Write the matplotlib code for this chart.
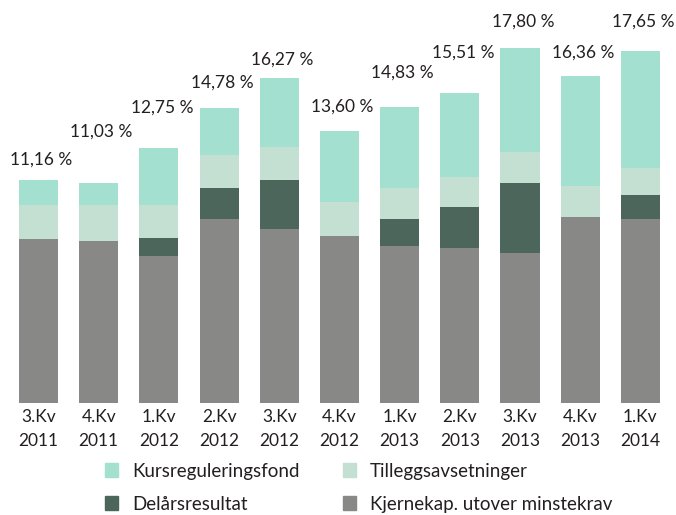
import numpy as np
import matplotlib
matplotlib.use('Agg')
import matplotlib.pyplot as plt
from matplotlib.patches import Patch

plt.rcParams['font.family'] = ['Lato', 'DejaVu Sans']

# quarters on the x axis
kvartal = ['3.Kv\n2011', '4.Kv\n2011', '1.Kv\n2012', '2.Kv\n2012', '3.Kv\n2012', '4.Kv\n2012',
           '1.Kv\n2013', '2.Kv\n2013', '3.Kv\n2013', '4.Kv\n2013', '1.Kv\n2014']

# components in percent, bottom to top
kjernekap = [8.20, 8.10, 7.35, 9.21, 8.71, 8.35, 7.85, 7.75, 7.50, 9.31, 9.21]
delaar = [0.00, 0.00, 0.90, 1.56, 2.46, 0.00, 1.35, 2.06, 3.51, 0.00, 1.20]
tillegg = [1.71, 1.81, 1.66, 1.66, 1.66, 1.71, 1.56, 1.51, 1.56, 1.56, 1.35]
kursreg = [1.25, 1.12, 2.84, 2.35, 3.44, 3.54, 4.07, 4.19, 5.23, 5.49, 5.89]

# total labels and where they sit (in %)
totaler = ['11,16 %', '11,03 %', '12,75 %', '14,78 %', '16,27 %', '13,60 %',
           '14,83 %', '15,51 %', '17,80 %', '16,36 %', '17,65 %']
label_y = [12.17, 13.57, 14.78, 16.03, 17.18, 14.83, 16.53, 17.54, 19.09, 17.54, 19.09]

c_kjerne = '#888886'
c_delaar = '#4c665c'
c_tillegg = '#c4e0d2'
c_kurs = '#a3e0d0'
txt = '#231f20'

fig = plt.figure(figsize=(6.76, 5.15), dpi=100)
ax = fig.add_axes([0.0124, 0.2184, 0.9795, 0.774])

x = np.arange(len(kvartal))
w = 0.65
b1 = np.array(kjernekap)
b2 = b1 + np.array(delaar)
b3 = b2 + np.array(tillegg)
ax.bar(x, kjernekap, w, color=c_kjerne)
ax.bar(x, delaar, w, bottom=b1, color=c_delaar)
ax.bar(x, tillegg, w, bottom=b2, color=c_tillegg)
ax.bar(x, kursreg, w, bottom=b3, color=c_kurs)

for i in range(len(x)):
    ax.text(x[i] + 0.05, label_y[i], totaler[i], ha='center', va='center', fontsize=12.5, color=txt)

ax.set_xlim(-0.5, 10.5)
ax.set_ylim(0, 20)
ax.set_xticks(x)
ax.set_xticklabels(kvartal, fontsize=12.5, color=txt, linespacing=1.55)
ax.tick_params(axis='x', length=0, pad=5)
ax.set_yticks([])
for s in ax.spines.values():
    s.set_visible(False)

handles = [Patch(color=c_kurs), Patch(color=c_delaar), Patch(color=c_tillegg), Patch(color=c_kjerne)]
names = ['Kursreguleringsfond', 'Delårsresultat', 'Tilleggsavsetninger', 'Kjernekap. utover minstekrav']
leg = fig.legend(handles, names, ncol=2, loc='upper left', bbox_to_anchor=(0.141, 0.12),
                 frameon=False, fontsize=13.5, handlelength=0.7, handleheight=0.7,
                 handletextpad=0.75, columnspacing=2.3, labelspacing=0.85, borderpad=0)
for t in leg.get_texts():
    t.set_color(txt)

fig.savefig('out.png', dpi=100)
